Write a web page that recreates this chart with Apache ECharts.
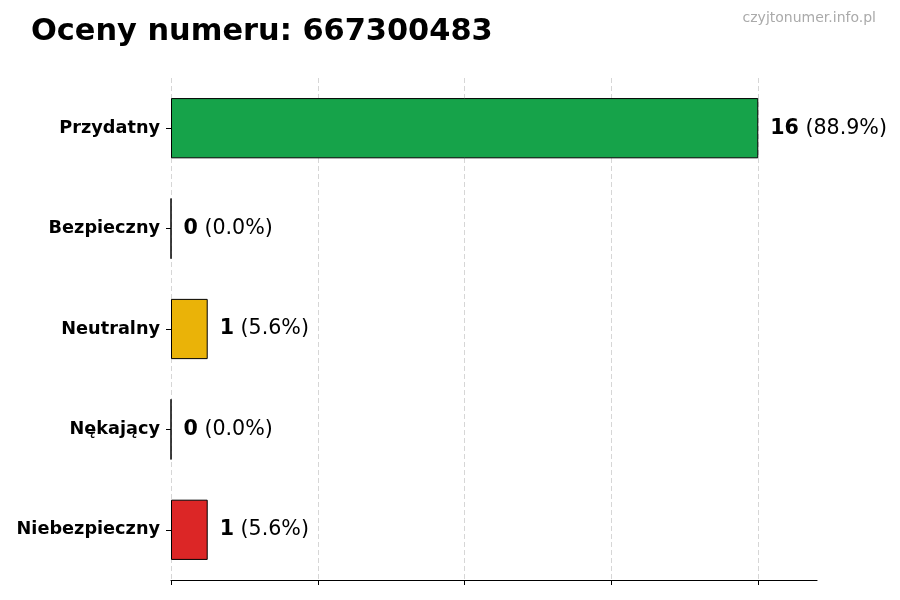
<!DOCTYPE html>
<html lang="pl">
<head>
    <meta charset="UTF-8">
    <title>Oceny numeru</title>
    <script src="https://cdn.jsdelivr.net/npm/echarts@6/dist/echarts.min.js"></script>
    <style>
        html, body { margin: 0; padding: 0; background: #fff; }
        #chart { width: 900px; height: 600px; }
    </style>
</head>
<body>
    <div id="chart"></div>

    <script>
        // dane z obrazka
        var categories = ['Przydatny', 'Bezpieczny', 'Neutralny', 'Nękający', 'Niebezpieczny'];
        var counts = [16, 0, 1, 0, 1];
        var colors = ['#16a34a', '#22c55e', '#eab308', '#f97316', '#dc2626'];
        var xTicks = [0, 4, 8, 12, 16];

        var total = counts.reduce(function (a, b) { return a + b; }, 0);

        var myChart = echarts.init(document.getElementById('chart'));

        var option = {
            animation: false,
            textStyle: { fontFamily: 'DejaVu Sans' },
            title: [
                {
                    text: 'Oceny numeru: 667300483',
                    left: 26,
                    top: 12,
                    textStyle: { fontFamily: 'DejaVu Sans', fontWeight: 'bold', fontSize: 30.4, color: '#000' }
                },
                {
                    text: 'czyjtonumer.info.pl',
                    right: 19,
                    top: 6,
                    textStyle: { fontFamily: 'DejaVu Sans', fontWeight: 'normal', fontSize: 14, color: '#aaaaaa' }
                }
            ],
            grid: { left: 171, right: 83, top: 78, bottom: 20, containLabel: false },
            xAxis: {
                type: 'value',
                min: 0,
                max: 17.6,
                interval: xTicks[1] - xTicks[0],
                axisLine: { show: true, lineStyle: { color: '#000', width: 1.2 } },
                axisTick: { show: true, customValues: xTicks, length: 5, lineStyle: { color: '#000' } },
                axisLabel: { show: false, customValues: xTicks },
                splitLine: { show: false }
            },
            yAxis: {
                type: 'category',
                data: categories,
                inverse: true,
                axisLine: { show: false },
                axisTick: { show: true, alignWithLabel: true, length: 5, lineStyle: { color: '#000' } },
                axisLabel: { color: '#000', fontWeight: 'bold', fontSize: 17.7, margin: 11 },
                splitLine: { show: false }
            },
            series: [
                {
                    type: 'bar',
                    barWidth: '60%',
                    data: counts.map(function (v, i) {
                        return {
                            value: v,
                            itemStyle: { color: colors[i], borderColor: '#000', borderWidth: 1 }
                        };
                    }),
                    label: {
                        show: true,
                        position: 'right',
                        distance: 12,
                        formatter: function (p) {
                            var pct = total ? (p.value / total * 100).toFixed(1) : '0.0';
                            return '{b|' + p.value + '}{n| (' + pct + '%)}';
                        },
                        rich: {
                            b: { fontWeight: 'bold', fontSize: 20.6, color: '#000', fontFamily: 'DejaVu Sans' },
                            n: { fontWeight: 'normal', fontSize: 20.6, color: '#000', fontFamily: 'DejaVu Sans' }
                        }
                    },
                    // pionowe linie siatki tylko w punktach podziałki
                    markLine: {
                        silent: true,
                        symbol: 'none',
                        z: 0,
                        label: { show: false },
                        lineStyle: { color: '#d6d6d6', type: [5, 3], width: 1 },
                        data: xTicks.map(function (t) { return { xAxis: t }; })
                    }
                }
            ]
        };

        myChart.setOption(option);
    </script>
</body>
</html>
